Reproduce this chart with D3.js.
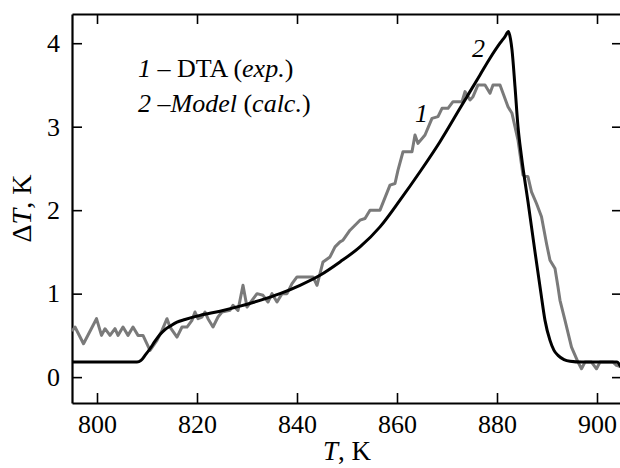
<!DOCTYPE html>
<html>
<head>
<meta charset="utf-8">
<script src="https://cdn.jsdelivr.net/npm/d3@7"></script>
<style>
  body { margin: 0; background: #fff; }
  svg text { font-family: "Liberation Serif", "Times New Roman", serif; fill: #000; }
</style>
</head>
<body>
<div id="chart"></div>
<script>
// Curve 1: DTA experiment (gray)
let dtaT = [795.0, 795.6, 797.3, 799.9, 800.9, 801.6, 802.6, 803.6, 804.2, 805.2,
    806.2, 807.2, 808.2, 809.2, 810.6, 812.0, 813.0, 814.0, 814.6, 816.0,
    817.0, 818.0, 819.0, 819.6, 820.2, 821.0, 821.6, 822.2, 823.2, 824.2,
    825.0, 826.6, 827.2, 828.2, 829.2, 830.0, 831.0, 832.0, 833.2, 834.2,
    835.0, 836.0, 837.0, 838.0, 839.0, 840.0, 843.2, 844.0, 845.2, 846.6,
    847.6, 848.6, 849.2, 850.6, 851.6, 852.6, 853.6, 854.6, 856.6, 858.6,
    859.6, 860.2, 861.2, 863.0, 863.6, 864.2, 865.6, 867.0, 868.2, 869.0,
    870.2, 871.2, 873.0, 873.6, 874.6, 875.2, 876.2, 877.6, 878.6, 879.2,
    880.6, 882.2, 883.0, 884.2, 885.2, 886.2, 886.9, 887.9, 888.9, 889.9,
    890.6, 891.6, 892.2, 892.6, 893.6, 894.9, 896.2, 896.9, 897.6, 898.9,
    899.9, 900.6, 903.2, 903.9, 905.0];
let dtaDT = [0.55, 0.60, 0.40, 0.70, 0.50, 0.58, 0.50, 0.58, 0.50, 0.60,
    0.50, 0.60, 0.50, 0.50, 0.32, 0.44, 0.56, 0.70, 0.60, 0.48,
    0.60, 0.60, 0.68, 0.78, 0.70, 0.72, 0.78, 0.70, 0.60, 0.72,
    0.78, 0.80, 0.86, 0.80, 1.10, 0.84, 0.92, 1.00, 0.98, 0.90,
    1.00, 0.90, 1.00, 1.00, 1.12, 1.20, 1.20, 1.10, 1.38, 1.44,
    1.56, 1.62, 1.64, 1.76, 1.82, 1.88, 1.90, 2.00, 2.00, 2.30,
    2.32, 2.48, 2.70, 2.70, 2.90, 2.80, 2.90, 3.10, 3.12, 3.22,
    3.22, 3.30, 3.30, 3.42, 3.32, 3.36, 3.50, 3.50, 3.40, 3.50,
    3.50, 3.24, 3.16, 2.84, 2.42, 2.40, 2.22, 2.08, 1.92, 1.60,
    1.40, 1.30, 1.08, 0.92, 0.68, 0.36, 0.18, 0.10, 0.18, 0.18,
    0.10, 0.18, 0.18, 0.14, 0.12];

// Curve 2: model calculation (black)
let modelT = [795.0, 808.0, 808.8, 809.6, 810.6, 811.6, 812.6, 813.6, 814.6, 816.0,
    817.6, 820.6, 824.6, 828.6, 832.6, 836.6, 840.6, 844.6, 848.6, 852.6,
    856.6, 860.6, 864.6, 868.6, 872.6, 876.6, 878.6, 880.6, 881.6, 882.3,
    882.7, 883.0, 883.6, 884.2, 884.9, 886.2, 887.6, 888.8, 889.6, 890.6,
    891.4, 892.2, 893.4, 894.6, 897.0, 904.0, 904.6, 905.0];
let modelDT = [0.18, 0.18, 0.20, 0.26, 0.34, 0.43, 0.51, 0.57, 0.61, 0.66,
    0.69, 0.74, 0.79, 0.85, 0.92, 1.00, 1.10, 1.22, 1.38, 1.56,
    1.80, 2.12, 2.46, 2.82, 3.22, 3.62, 3.82, 4.00, 4.08, 4.14,
    4.05, 3.92, 3.48, 3.00, 2.64, 2.10, 1.50, 1.00, 0.68, 0.44,
    0.32, 0.26, 0.21, 0.19, 0.18, 0.18, 0.14, 0.10];

let xTicks = [800, 820, 840, 860, 880, 900];
let yTicks = [0, 1, 2, 3, 4];

let W = 620, H = 468;
let margin = { top: 14, left: 72, bottom: 65, right: -2 };
let width = W - margin.left - margin.right;
let height = H - margin.top - margin.bottom;

let svg = d3.select("#chart")
    .append("svg")
    .attr("width", W)
    .attr("height", H);

let g = svg.append("g")
    .attr("transform", `translate(${margin.left}, ${margin.top})`);

let xScale = d3.scaleLinear().domain([795, 905]).range([0, width]);
let yScale = d3.scaleLinear().domain([-0.31, 4.35]).range([height, 0]);

/* Axes, ticks pointing inward */
let xAxis = d3.axisBottom(xScale).tickValues(xTicks).tickFormat(d3.format("d"))
    .tickSize(-10).tickSizeOuter(0).tickPadding(12);
let xTop = d3.axisTop(xScale).tickValues(xTicks).tickSize(-10).tickSizeOuter(0).tickFormat("");
let yAxis = d3.axisLeft(yScale).tickValues(yTicks).tickFormat(d3.format("d"))
    .tickSize(-10).tickSizeOuter(0).tickPadding(12);
let yRight = d3.axisRight(yScale).tickValues(yTicks).tickSize(-10).tickSizeOuter(0).tickFormat("");

function styleAxis(sel) {
    sel.attr("font-size", 26).attr("font-family", "Liberation Serif, serif");
    sel.select(".domain").attr("stroke", "#000").attr("stroke-width", 2.2);
    sel.selectAll(".tick line").attr("stroke", "#000").attr("stroke-width", 1.6);
    sel.selectAll(".tick text").attr("fill", "#000");
}

g.append("g").attr("transform", `translate(0, ${height})`).call(xAxis).call(styleAxis);
g.append("g").call(xTop).call(styleAxis);
g.append("g").call(yAxis).call(styleAxis);
g.append("g").attr("transform", `translate(${width}, 0)`).call(yRight).call(styleAxis);

/* Lines */
let dtaData = dtaT.map((t, i) => [t, dtaDT[i]]);
let modelData = modelT.map((t, i) => [t, modelDT[i]]);

let line = d3.line()
    .x(d => xScale(d[0]))
    .y(d => yScale(d[1]));

g.append("path")
    .datum(dtaData)
    .attr("d", line)
    .attr("fill", "none")
    .attr("stroke", "#7a7a7a")
    .attr("stroke-width", 3)
    .attr("stroke-linejoin", "round");

g.append("path")
    .datum(modelData)
    .attr("d", line.curve(d3.curveMonotoneX))
    .attr("fill", "none")
    .attr("stroke", "#000")
    .attr("stroke-width", 3)
    .attr("stroke-linejoin", "round");

/* Curve labels */
g.append("text")
    .attr("x", xScale(863.6))
    .attr("y", yScale(3.06))
    .attr("font-size", 26)
    .attr("font-style", "italic")
    .text("1");

g.append("text")
    .attr("x", xScale(875))
    .attr("y", yScale(3.84))
    .attr("font-size", 26)
    .attr("font-style", "italic")
    .text("2");

/* Legend */
let legend = g.append("g").attr("font-size", 26);

let l1 = legend.append("text").attr("x", 66).attr("y", 63);
l1.append("tspan").attr("font-style", "italic").text("1");
l1.append("tspan").text(" – DTA (");
l1.append("tspan").attr("font-style", "italic").text("exp.");
l1.append("tspan").text(")");

let l2 = legend.append("text").attr("x", 66).attr("y", 98);
l2.append("tspan").attr("font-style", "italic").text("2");
l2.append("tspan").text(" –");
l2.append("tspan").attr("font-style", "italic").text("Model");
l2.append("tspan").text(" (");
l2.append("tspan").attr("font-style", "italic").text("calc.");
l2.append("tspan").text(")");

/* Axis titles */
let xTitle = svg.append("text")
    .attr("x", margin.left + width / 2)
    .attr("y", 460)
    .attr("text-anchor", "middle")
    .attr("font-size", 27);
xTitle.append("tspan").attr("font-style", "italic").text("T");
xTitle.append("tspan").text(", K");

let yTitle = svg.append("text")
    .attr("transform", `translate(31, ${margin.top + height / 2}) rotate(-90)`)
    .attr("text-anchor", "middle")
    .attr("font-size", 28);
yTitle.append("tspan").text("Δ");
yTitle.append("tspan").attr("font-style", "italic").text("T");
yTitle.append("tspan").text(", K");
</script>
</body>
</html>
